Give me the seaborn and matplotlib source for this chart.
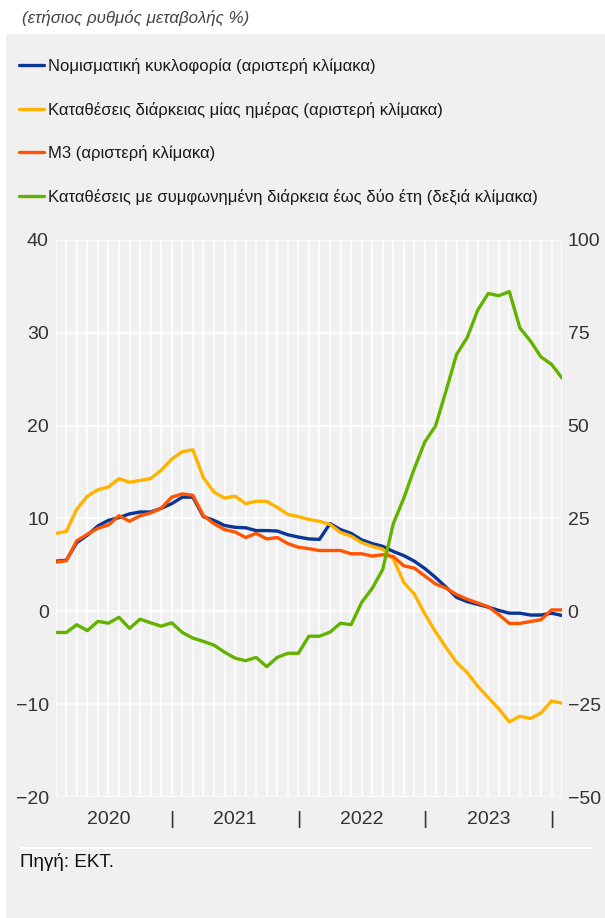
# Monetary aggregates chart: annual growth rates (left scale) and term deposits (right scale)

import numpy as np
import pandas as pd
import matplotlib
matplotlib.use("Agg")
import matplotlib.pyplot as plt
import matplotlib.transforms as mtransforms
from matplotlib.patches import Rectangle
from matplotlib.lines import Line2D
import seaborn as sns

# monthly observations, Jan 2020 - Jan 2024
months = pd.date_range("2020-01-01", periods=49, freq="MS")
year_labels = ["2020", "2021", "2022", "2023"]

currency = [5.4, 5.5, 7.4, 8.2, 9.2, 9.8, 10.1, 10.5, 10.7, 10.7, 11.1, 11.6,
            12.3, 12.3, 10.2, 9.8, 9.25, 9.05, 9.0, 8.7, 8.7, 8.65, 8.25, 8.0,
            7.8, 7.75, 9.45, 8.8, 8.4, 7.7, 7.3, 7.0, 6.45, 6.0, 5.4, 4.6,
            3.65, 2.6, 1.5, 1.05, 0.75, 0.45, 0.1, -0.2, -0.2, -0.4, -0.4, -0.2,
            -0.45]
overnight = [8.4, 8.6, 11.0, 12.4, 13.1, 13.4, 14.3, 13.9, 14.1, 14.3, 15.2, 16.4,
             17.2, 17.4, 14.4, 12.85, 12.2, 12.4, 11.6, 11.85, 11.85, 11.2, 10.45, 10.2,
             9.9, 9.7, 9.35, 8.5, 8.1, 7.4, 7.0, 6.7, 5.65, 3.1, 1.85, -0.3,
             -2.2, -3.9, -5.5, -6.6, -8.05, -9.3, -10.5, -11.9, -11.3, -11.55, -10.95, -9.65,
             -9.9]
m3 = [5.3, 5.45, 7.6, 8.3, 8.95, 9.3, 10.3, 9.7, 10.3, 10.6, 11.1, 12.3,
      12.65, 12.5, 10.3, 9.45, 8.8, 8.55, 7.95, 8.4, 7.8, 7.95, 7.3, 6.9,
      6.75, 6.55, 6.55, 6.55, 6.2, 6.2, 5.95, 6.1, 5.9, 4.9, 4.65, 3.8,
      2.95, 2.5, 1.8, 1.3, 0.9, 0.5, -0.35, -1.3, -1.3, -1.1, -0.9, 0.15,
      0.15]
term_2y = [-5.7, -5.7, -3.6, -5.2, -2.7, -3.2, -1.6, -4.6, -2.1, -3.1, -4.0, -3.1,
           -5.7, -7.2, -8.1, -9.1, -11.0, -12.6, -13.3, -12.4, -14.9, -12.4, -11.3, -11.3,
           -6.7, -6.7, -5.6, -3.2, -3.6, 2.4, 6.2, 11.3, 23.6, 30.5, 38.5, 45.7,
           49.9, 59.4, 69.2, 73.7, 81.1, 85.6, 85.0, 86.1, 76.3, 72.8, 68.5, 66.5,
           62.8]

series_labels = [
    "Νομισματική κυκλοφορία (αριστερή κλίμακα)",
    "Καταθέσεις διάρκειας μίας ημέρας (αριστερή κλίμακα)",
    "M3 (αριστερή κλίμακα)",
    "Καταθέσεις με συμφωνημένη διάρκεια έως δύο έτη (δεξιά κλίμακα)",
]
series_colors = ["#0a3696", "#ffb300", "#ff5400", "#62b300"]

BG = "#f0f0f0"
TXT = "#333333"

sns.set_theme(style="white")
plt.rcParams["font.family"] = ["Liberation Sans", "DejaVu Sans"]

df = pd.DataFrame({
    "idx": np.arange(len(months)),
    "month": months,
    "currency": currency,
    "overnight": overnight,
    "m3": m3,
    "term_2y": term_2y,
})

W, H = 605, 918
def fx(px):
    return px / W
def fy(py):
    return 1 - py / H

fig = plt.figure(figsize=(W / 100, H / 100), dpi=100)
fig.patch.set_facecolor("white")
fig.patches.append(Rectangle((fx(6), 0), 1 - fx(6), fy(34), transform=fig.transFigure,
                             facecolor=BG, edgecolor="none", zorder=-5))

ax = fig.add_axes([fx(55.7), fy(797), (562.1 - 55.7) / W, (797 - 240) / H])
ax.set_facecolor(BG)

for col, color, lab in zip(["currency", "overnight", "m3"], series_colors[:3], series_labels[:3]):
    sns.lineplot(data=df, x="idx", y=col, ax=ax, color=color, lw=2.4, label=lab, legend=False)

ax.set_xlim(0, len(months) - 1)
ax.set_ylim(-20, 40)
ax.set_yticks(range(-20, 41, 10))
ax.set_xticks(df["idx"])
ax.set_xticklabels([])
ax.grid(True, color="white", lw=1.2)
ax.set_axisbelow(True)
ax.tick_params(axis="x", length=4, color="white", width=1)
ax.tick_params(axis="y", length=0, pad=5, labelsize=14, labelcolor=TXT)
ax.set_xlabel("")
ax.set_ylabel("")
for s in ax.spines.values():
    s.set_visible(False)

ax2 = ax.twinx()
sns.lineplot(data=df, x="idx", y="term_2y", ax=ax2, color=series_colors[3], lw=2.4,
             label=series_labels[3], legend=False)
ax2.set_ylim(-50, 100)
ax2.set_yticks(range(-50, 101, 25))
ax2.grid(False)
ax2.tick_params(axis="y", length=0, pad=4, labelsize=14, labelcolor=TXT)
ax2.set_ylabel("")
for s in ax2.spines.values():
    s.set_visible(False)

# year labels and separators under the axis
trans = mtransforms.blended_transform_factory(ax.transData, fig.transFigure)
for k, yl in enumerate(year_labels):
    ax.text(5 + 12 * k, fy(819), yl, transform=trans, ha="center", va="center",
            fontsize=14, color=TXT)
    ax.text(11 + 12 * k, fy(819), "|", transform=trans, ha="center", va="center",
            fontsize=14, color=TXT)

handles = [Line2D([], [], color=c, lw=2.4) for c in series_colors]
fig.legend(handles, series_labels, loc="upper left", bbox_to_anchor=(fx(19), fy(58)),
           frameon=False, fontsize=12, handlelength=1.5, handletextpad=0.25,
           labelspacing=1.65, borderaxespad=0, borderpad=0, labelcolor="#1a1a1a")

fig.text(fx(22), fy(18), "(ετήσιος ρυθμός μεταβολής %)", style="italic", fontsize=12.2,
         color="#444444", va="center", ha="left")
fig.add_artist(Line2D([fx(20), fx(593)], [fy(848), fy(848)], transform=fig.transFigure,
                      color="white", lw=1.5))
fig.text(fx(20), fy(862), "Πηγή: ΕΚΤ.", fontsize=13.5, color="#111111", va="center", ha="left")

fig.savefig("out.png", dpi=100, facecolor=fig.get_facecolor())
